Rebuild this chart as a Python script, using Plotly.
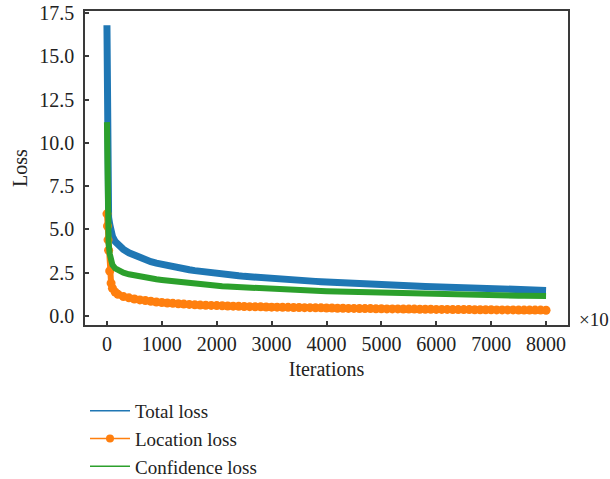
import plotly.graph_objects as go

ITERATIONS = [0, 10, 20, 30, 50, 75, 100, 150, 200, 300, 400, 500, 600, 700, 800, 900,
              1000, 1100, 1200, 1300, 1400, 1500, 1600, 1700, 1800, 1900,
              2000, 2100, 2200, 2300, 2400, 2500, 2600, 2700, 2800, 2900,
              3000, 3100, 3200, 3300, 3400, 3500, 3600, 3700, 3800, 3900,
              4000, 4100, 4200, 4300, 4400, 4500, 4600, 4700, 4800, 4900,
              5000, 5100, 5200, 5300, 5400, 5500, 5600, 5700, 5800, 5900,
              6000, 6100, 6200, 6300, 6400, 6500, 6600, 6700, 6800, 6900,
              7000, 7100, 7200, 7300, 7400, 7500, 7600, 7700, 7800, 7900,
              8000]

TOTAL_LOSS = [16.8, 9.0, 6.3, 5.7, 5.3, 4.9, 4.6, 4.3, 4.1, 3.85, 3.65, 3.5, 3.37, 3.25, 3.14, 3.05,
              2.97, 2.90, 2.84, 2.78, 2.72, 2.67, 2.62, 2.57, 2.53, 2.49,
              2.45, 2.41, 2.38, 2.35, 2.32, 2.29, 2.26, 2.23, 2.21, 2.18,
              2.16, 2.14, 2.12, 2.10, 2.08, 2.06, 2.04, 2.02, 2.00, 1.98,
              1.96, 1.94, 1.92, 1.91, 1.89, 1.88, 1.86, 1.85, 1.83, 1.82,
              1.81, 1.79, 1.78, 1.77, 1.76, 1.74, 1.73, 1.72, 1.71, 1.70,
              1.69, 1.68, 1.66, 1.65, 1.64, 1.63, 1.62, 1.61, 1.60, 1.59,
              1.58, 1.57, 1.56, 1.55, 1.54, 1.53, 1.52, 1.51, 1.50, 1.49,
              1.48]

LOCATION_LOSS = [5.9, 5.2, 4.4, 3.8, 2.6, 1.9, 1.6, 1.38, 1.25, 1.12, 1.05, 0.98, 0.93, 0.89, 0.85, 0.81,
                 0.78, 0.75, 0.73, 0.71, 0.69, 0.67, 0.65, 0.63, 0.62, 0.61,
                 0.60, 0.59, 0.58, 0.57, 0.56, 0.55, 0.54, 0.53, 0.53, 0.52,
                 0.51, 0.51, 0.50, 0.50, 0.49, 0.49, 0.48, 0.48, 0.47, 0.47,
                 0.46, 0.46, 0.45, 0.45, 0.44, 0.44, 0.43, 0.43, 0.43, 0.42,
                 0.42, 0.41, 0.41, 0.41, 0.40, 0.40, 0.40, 0.39, 0.39, 0.39,
                 0.38, 0.38, 0.38, 0.37, 0.37, 0.37, 0.37, 0.36, 0.36, 0.36,
                 0.36, 0.35, 0.35, 0.35, 0.35, 0.34, 0.34, 0.34, 0.34, 0.34,
                 0.33]

CONFIDENCE_LOSS = [11.2, 7.0, 5.0, 4.2, 3.6, 3.2, 2.95, 2.75, 2.64, 2.50, 2.41, 2.34, 2.28, 2.22, 2.17, 2.12,
                   2.08, 2.04, 2.00, 1.96, 1.93, 1.90, 1.87, 1.84, 1.81, 1.78,
                   1.75, 1.72, 1.70, 1.68, 1.66, 1.64, 1.62, 1.60, 1.58, 1.57,
                   1.55, 1.54, 1.52, 1.51, 1.50, 1.48, 1.47, 1.46, 1.45, 1.44,
                   1.43, 1.42, 1.41, 1.40, 1.39, 1.38, 1.37, 1.36, 1.35, 1.35,
                   1.34, 1.33, 1.32, 1.31, 1.31, 1.30, 1.29, 1.28, 1.28, 1.27,
                   1.26, 1.26, 1.25, 1.24, 1.24, 1.23, 1.22, 1.22, 1.21, 1.21,
                   1.20, 1.19, 1.19, 1.18, 1.18, 1.17, 1.17, 1.16, 1.16, 1.15,
                   1.15]

SERIES_NAMES = ["Total loss", "Location loss", "Confidence loss"]
COLORS = ["#1f77b4", "#ff7f0e", "#2ca02c"]
FONT = "Liberation Serif"
TEXT_COLOR = "#222222"
AXIS_COLOR = "#3a3a3a"
FS = 20

fig = go.Figure()

# data traces (thick, to mimic the dense noisy bands)
fig.add_trace(go.Scatter(x=ITERATIONS, y=TOTAL_LOSS, mode="lines",
                         line=dict(color=COLORS[0], width=7), showlegend=False))
fig.add_trace(go.Scatter(x=ITERATIONS, y=LOCATION_LOSS, mode="lines+markers",
                         line=dict(color=COLORS[1], width=6),
                         marker=dict(color=COLORS[1], size=9), showlegend=False))
fig.add_trace(go.Scatter(x=ITERATIONS, y=CONFIDENCE_LOSS, mode="lines",
                         line=dict(color=COLORS[2], width=6), showlegend=False))

# legend entries (thin lines as in reference)
fig.add_trace(go.Scatter(x=[None], y=[None], mode="lines", name=SERIES_NAMES[0],
                         line=dict(color=COLORS[0], width=1.5)))
fig.add_trace(go.Scatter(x=[None], y=[None], mode="lines+markers", name=SERIES_NAMES[1],
                         line=dict(color=COLORS[1], width=1.5),
                         marker=dict(color=COLORS[1], size=8)))
fig.add_trace(go.Scatter(x=[None], y=[None], mode="lines", name=SERIES_NAMES[2],
                         line=dict(color=COLORS[2], width=1.5)))

axis_common = dict(showline=True, mirror=True, linecolor=AXIS_COLOR, linewidth=1.5,
                   ticks="inside", ticklen=4, tickwidth=1.5, tickcolor=AXIS_COLOR,
                   showgrid=False, zeroline=False, automargin=False,
                   ticklabeloverflow="allow",
                   tickfont=dict(family=FONT, size=FS, color=TEXT_COLOR))

fig.update_xaxes(range=[-400, 8400], tick0=0, dtick=1000,
                 ticklabelstandoff=0,
                 title=dict(text="Iterations", font=dict(family=FONT, size=FS, color=TEXT_COLOR),
                            standoff=8),
                 **axis_common)
fig.update_yaxes(range=[-0.52, 17.62], tick0=0, dtick=2.5, tickformat=".1f",
                 ticklabelstandoff=5,
                 title=dict(text="Loss", font=dict(family=FONT, size=FS, color=TEXT_COLOR),
                            standoff=6),
                 **axis_common)

fig.add_annotation(text="×10", xref="paper", yref="paper", x=1.018, y=0.016,
                   xanchor="left", yanchor="middle", showarrow=False,
                   font=dict(family=FONT, size=19, color=TEXT_COLOR))

fig.update_layout(
    width=610, height=479,
    margin=dict(l=85, r=42, t=11, b=154, autoexpand=False),
    plot_bgcolor="white", paper_bgcolor="white",
    font=dict(family=FONT, size=FS, color=TEXT_COLOR),
    legend=dict(x=0.0, xanchor="left", y=-0.213, yanchor="top",
                bgcolor="rgba(0,0,0,0)", font=dict(family=FONT, size=19, color=TEXT_COLOR),
                itemwidth=40, tracegroupgap=0),
)

fig.write_html("out.html", config={"displayModeBar": False},
               post_script="document.body.style.margin='0';document.body.style.overflow='hidden';")
